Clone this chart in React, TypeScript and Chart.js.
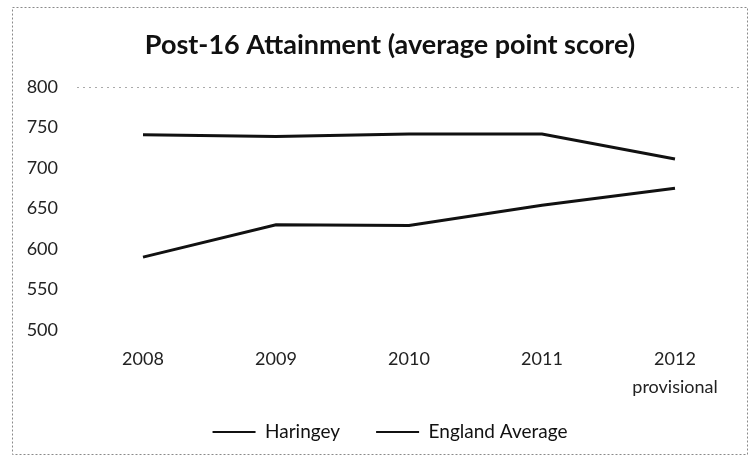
import React, { useEffect, useRef } from "react";
import { Chart, registerables } from "chart.js";

Chart.register(...registerables);

const categories: (string | string[])[] = ["2008", "2009", "2010", "2011", ["2012", "provisional"]];
const haringey = [590, 630, 629, 654, 675];
const englandAverage = [741, 739, 742, 742, 711];
const yTicks = [500, 550, 600, 650, 700, 750, 800];
const titleText = "Post-16 Attainment (average point score)";

const FONT = "Lato, 'Open Sans', sans-serif";
const PAD_L = 12.5;
const PAD_R = 12.5;
const SHIFT = 13;

const decor = {
  id: "decor",
  afterLayout(chart: any) {
    const lg = chart.legend;
    lg.left = PAD_L + SHIFT;
    lg.right = chart.width - PAD_R + SHIFT;
    lg.top = 386.5;
    lg.bottom = chart.height;
  },
  beforeDraw(chart: any) {
    const ctx = chart.ctx;
    ctx.save();
    ctx.strokeStyle = "#8a8a8a";
    ctx.lineWidth = 1;
    ctx.setLineDash([2, 2]);
    ctx.strokeRect(12.5, 7.5, 735, 447);
    ctx.restore();
  },
  afterDraw(chart: any) {
    const ctx = chart.ctx;
    const lg = chart.legend;
    const cx = (lg.left + lg.right) / 2;
    ctx.save();
    ctx.fillStyle = "#111";
    ctx.font = `bold 27px ${FONT}`;
    ctx.textAlign = "center";
    ctx.textBaseline = "alphabetic";
    ctx.fillText(titleText, cx, 54);
    ctx.restore();
  },
};

export default function App() {
  const ref = useRef<HTMLCanvasElement>(null);
  useEffect(() => {
    const chart = new Chart(ref.current!, {
      type: "line",
      data: {
        labels: categories,
        datasets: [
          {
            label: "Haringey",
            data: haringey,
            borderColor: "#111",
            backgroundColor: "#111",
            borderWidth: 3,
            pointRadius: 0,
            tension: 0,
          },
          {
            label: "England Average",
            data: englandAverage,
            borderColor: "#111",
            backgroundColor: "#111",
            borderWidth: 3,
            pointRadius: 0,
            tension: 0,
          },
        ],
      },
      plugins: [decor],
      options: {
        animation: false,
        responsive: false,
        layout: { padding: { left: PAD_L, right: PAD_R, top: 87, bottom: 0 } },
        plugins: {
          title: { display: false },
          legend: {
            position: "bottom",
            maxHeight: 53,
            labels: {
              color: "#111",
              font: { family: FONT, size: 19 },
              boxWidth: 43,
              boxHeight: 2,
              padding: 36,
              generateLabels(chart: any) {
                const items = Chart.defaults.plugins.legend.labels.generateLabels(chart);
                return items.map((it: any) => ({ ...it, lineWidth: 0, fillStyle: "#111" }));
              },
            },
          },
          tooltip: { enabled: false },
        },
        scales: {
          x: {
            offset: true,
            afterFit(scale: any) {
              scale.height = 74;
            },
            grid: { display: false, drawTicks: false },
            border: { display: false },
            ticks: {
              color: "#222",
              font: { family: FONT, size: 18, lineHeight: 1.556 },
              padding: 15,
              maxRotation: 0,
              autoSkip: false,
            },
          },
          y: {
            min: 500,
            max: 800,
            afterFit(scale: any) {
              scale.width = 64;
            },
            afterBuildTicks(scale: any) {
              scale.ticks = yTicks.map((v) => ({ value: v }));
            },
            border: { display: false, dash: [2, 4] },
            grid: {
              color: (c: any) => (c.tick && c.tick.value === 800 ? "#aaa" : "rgba(0,0,0,0)"),
              drawTicks: false,
            },
            ticks: {
              color: "#222",
              font: { family: FONT, size: 18 },
              padding: 18.5,
            },
          },
        },
      },
    });
    return () => chart.destroy();
  }, []);
  return (
    <div style={{ position: "fixed", left: 0, top: 0, width: 754, height: 457, background: "#fff" }}>
      <canvas ref={ref} width={754} height={457} />
    </div>
  );
}
